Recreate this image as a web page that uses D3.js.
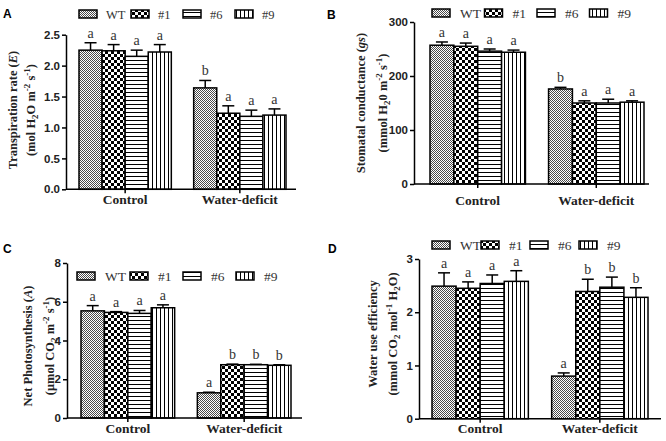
<!DOCTYPE html>
<html><head><meta charset="utf-8">
<script src="https://cdn.jsdelivr.net/npm/d3@7"></script>
<style>body{margin:0;background:#fff}svg{display:block}</style>
</head><body>
<svg id="chart" width="666" height="441"></svg>
<script>
// ---- data ----
const groups = ["Control", "Water-deficit"];
const lines = ["WT", "#1", "#6", "#9"];

const transpMean = [[2.25, 2.24, 2.15, 2.22], [1.64, 1.23, 1.18, 1.20]];
const transpErr = [[0.12, 0.10, 0.10, 0.12], [0.12, 0.12, 0.10, 0.10]];
const transpLetters = [["a", "a", "a", "a"], ["b", "a", "a", "a"]];
const transpTicks = [0, 0.5, 1.0, 1.5, 2.0, 2.5];

const condMean = [[257, 255, 246, 244], [176, 150, 150, 151.5]];
const condErr = [[6, 6, 4, 4], [3, 4, 7, 2.5]];
const condLetters = [["a", "a", "a", "a"], ["b", "a", "a", "a"]];
const condTicks = [0, 100, 200, 300];

const photoMean = [[5.53, 5.45, 5.40, 5.69], [1.30, 2.75, 2.75, 2.72]];
const photoErr = [[0.27, 0.04, 0.15, 0.15], [0.03, 0.03, 0.02, 0.03]];
const photoLetters = [["a", "a", "a", "a"], ["a", "b", "b", "b"]];
const photoTicks = [0, 2, 4, 6, 8];

const wueMean = [[2.49, 2.45, 2.54, 2.58], [0.80, 2.39, 2.47, 2.28]];
const wueErr = [[0.25, 0.12, 0.16, 0.20], [0.06, 0.23, 0.19, 0.18]];
const wueLetters = [["a", "a", "a", "a"], ["a", "b", "b", "b"]];
const wueTicks = [0, 1, 2, 3];

// ---- drawing ----
const svg = d3.select("#chart");
svg.append("rect").attr("width", 666).attr("height", 441).attr("fill", "#fff");
const defs = svg.append("defs");

function pat(id, w, h, draw) {
  const p = defs.append("pattern").attr("id", id).attr("patternUnits", "userSpaceOnUse")
    .attr("width", w).attr("height", h);
  p.append("rect").attr("width", w).attr("height", h).attr("fill", "#fff");
  draw(p);
}
pat("pWT", 2, 2, p => {
  p.append("rect").attr("x", 0).attr("y", 0).attr("width", 1).attr("height", 1).attr("fill", "#4a4a4a");
  p.append("rect").attr("x", 1).attr("y", 1).attr("width", 1).attr("height", 1).attr("fill", "#4a4a4a");
});
pat("p1", 6, 6, p => {
  p.append("rect").attr("x", 0).attr("y", 0).attr("width", 3).attr("height", 3).attr("fill", "#000");
  p.append("rect").attr("x", 3).attr("y", 3).attr("width", 3).attr("height", 3).attr("fill", "#000");
});
pat("p6", 4, 4, p => {
  p.append("rect").attr("x", 0).attr("y", 0).attr("width", 4).attr("height", 1).attr("fill", "#000");
});
pat("p9", 4, 4, p => {
  p.append("rect").attr("x", 0).attr("y", 0).attr("width", 1).attr("height", 4).attr("fill", "#000");
});
const fills = ["url(#pWT)", "url(#p1)", "url(#p6)", "url(#p9)"];

const SERIF = "'Liberation Serif','Times New Roman',serif";
const SANS = "'Liberation Sans',Arial,sans-serif";

function rich(textSel, parts, size) {
  let shift = 0;
  parts.forEach(pt => {
    const target = pt.sub ? 3 : pt.sup ? -5 : 0;
    const ts = textSel.append("tspan").text(pt.t).attr("dy", target - shift);
    if (pt.sub || pt.sup) ts.attr("font-size", size * 0.72);
    if (pt.it) ts.attr("font-style", "italic");
    shift = target;
  });
}

function panel(c) {
  const g = svg.append("g");
  const y = d3.scaleLinear().domain([0, c.ticks[c.ticks.length - 1]]).range([c.yBot, c.yTop]);
  const xg = d3.scaleBand().domain(groups).range([c.b0, c.b1]).paddingInner(0.195).paddingOuter(0);
  const xi = d3.scaleBand().domain(lines).range([0, xg.bandwidth()]).padding(0);

  // bars
  groups.forEach((grp, gi) => {
    lines.forEach((ln, li) => {
      const v = c.mean[gi][li], e = c.err[gi][li];
      const bx = xg(grp) + xi(ln), bw = xi.bandwidth(), cx = bx + bw / 2;
      g.append("rect").attr("x", bx).attr("y", y(v)).attr("width", bw).attr("height", y(0) - y(v))
        .attr("fill", fills[li]).attr("stroke", "#000").attr("stroke-width", 1.5);
      g.append("line").attr("x1", cx).attr("x2", cx).attr("y1", y(v)).attr("y2", y(v + e))
        .attr("stroke", "#000").attr("stroke-width", 1.5);
      g.append("line").attr("x1", cx - 6).attr("x2", cx + 6).attr("y1", y(v + e)).attr("y2", y(v + e))
        .attr("stroke", "#000").attr("stroke-width", 1.5);
      g.append("text").attr("x", cx).attr("y", y(v + e) - 5).attr("text-anchor", "middle")
        .attr("font-family", SERIF).attr("font-size", 14).attr("fill", "#333").text(c.letters[gi][li]);
    });
  });

  // y axis
  const ya = g.append("g").attr("transform", `translate(${c.x0},0)`)
    .call(d3.axisLeft(y).tickValues(c.ticks).tickSize(4).tickSizeOuter(0).tickFormat(d3.format(c.fmt)));
  ya.select(".domain").attr("stroke-width", 1.5);
  ya.selectAll(".tick line").attr("stroke-width", 1.5);
  ya.selectAll(".tick text").attr("font-family", SANS).attr("font-weight", "bold").attr("font-size", 11.5).attr("fill", "#222").attr("dx", 1);

  // x axis
  g.append("line").attr("x1", c.x0).attr("x2", c.x1).attr("y1", c.yBot).attr("y2", c.yBot)
    .attr("stroke", "#000").attr("stroke-width", 1.5);
  const xa = g.append("g").attr("transform", `translate(0,${c.yBot})`)
    .call(d3.axisBottom(xg).tickSize(4).tickSizeOuter(0).tickFormat(""));
  xa.select(".domain").remove();
  xa.selectAll(".tick line").attr("stroke-width", 1.5);
  groups.forEach(grp => {
    g.append("text").attr("x", xg(grp) + xg.bandwidth() / 2).attr("y", c.labelY).attr("text-anchor", "middle")
      .attr("font-family", SERIF).attr("font-weight", "bold").attr("font-size", 13.5).attr("fill", "#222").text(grp);
  });

  // y title
  c.title.forEach((parts, i) => {
    const t = g.append("text").attr("transform", `translate(${c.titleX[i]},${c.titleY}) rotate(-90)`)
      .attr("text-anchor", "middle").attr("font-family", SERIF).attr("font-weight", "bold")
      .attr("font-size", 12.5).attr("fill", "#222");
    rich(t, parts, 12.5);
  });

  // legend
  lines.forEach((ln, li) => {
    const lx = c.leg.x + li * c.leg.step;
    g.append("rect").attr("x", lx).attr("y", c.leg.y - 4).attr("width", 18).attr("height", 8)
      .attr("fill", fills[li]).attr("stroke", "#000").attr("stroke-width", 1.5);
    g.append("text").attr("x", lx + c.leg.dx).attr("y", c.leg.y + 4.5).attr("font-family", SERIF)
      .attr("font-size", c.leg.size).attr("fill", "#333").text(ln);
  });

  // panel letter
  g.append("text").attr("x", c.lab.x).attr("y", c.lab.y).attr("font-family", SANS).attr("font-weight", "bold")
    .attr("font-size", 12).attr("fill", "#000").text(c.lab.t);
}

panel({
  mean: transpMean, err: transpErr, letters: transpLetters, ticks: transpTicks, fmt: ".1f",
  x0: 66, x1: 296, b0: 79, b1: 286, yTop: 34.7, yBot: 189.3, labelY: 204,
  titleX: [16.5, 35], titleY: 110,
  title: [[{t: "Transpiration rate ("}, {t: "E", it: true}, {t: ")"}],
          [{t: "(mol H"}, {t: "2", sub: true}, {t: "O m"}, {t: "-2", sup: true}, {t: " s"}, {t: "-1", sup: true}, {t: ")"}]],
  leg: {x: 79, y: 14, step: 52, dx: 27, size: 12.5},
  lab: {t: "A", x: 3, y: 18}
});
panel({
  mean: condMean, err: condErr, letters: condLetters, ticks: condTicks, fmt: "d",
  x0: 414, x1: 649, b0: 430, b1: 644, yTop: 22, yBot: 184, labelY: 205,
  titleX: [365, 387], titleY: 103,
  title: [[{t: "Stomatal conductance ("}, {t: "gs", it: true}, {t: ")"}],
          [{t: "(mmol H"}, {t: "2", sub: true}, {t: "0 m"}, {t: "-2", sup: true}, {t: " s"}, {t: "-1", sup: true}, {t: ")"}]],
  leg: {x: 432, y: 13, step: 52.5, dx: 28, size: 13.5},
  lab: {t: "B", x: 327, y: 19}
});
panel({
  mean: photoMean, err: photoErr, letters: photoLetters, ticks: photoTicks, fmt: "d",
  x0: 67, x1: 302, b0: 81, b1: 291, yTop: 263, yBot: 418, labelY: 433,
  titleX: [32, 54], titleY: 346,
  title: [[{t: "Net Photosynthesis ("}, {t: "A", it: true}, {t: ")"}],
          [{t: "(μmol CO"}, {t: "2", sub: true}, {t: " m"}, {t: "-2", sup: true}, {t: " s"}, {t: "-1", sup: true}, {t: ")"}]],
  leg: {x: 77, y: 276, step: 53, dx: 28, size: 13.5},
  lab: {t: "C", x: 3, y: 253}
});
panel({
  mean: wueMean, err: wueErr, letters: wueLetters, ticks: wueTicks, fmt: "d",
  x0: 419, x1: 661, b0: 432, b1: 648, yTop: 259, yBot: 418.7, labelY: 433,
  titleX: [377, 397], titleY: 334,
  title: [[{t: "Water use efficiency"}],
          [{t: "(mmol CO"}, {t: "2", sub: true}, {t: " mol"}, {t: "-1", sup: true}, {t: " H"}, {t: "2", sub: true}, {t: "O)"}]],
  leg: {x: 432, y: 245, step: 49, dx: 28, size: 13.5},
  lab: {t: "D", x: 328, y: 253}
});
</script>
</body></html>
